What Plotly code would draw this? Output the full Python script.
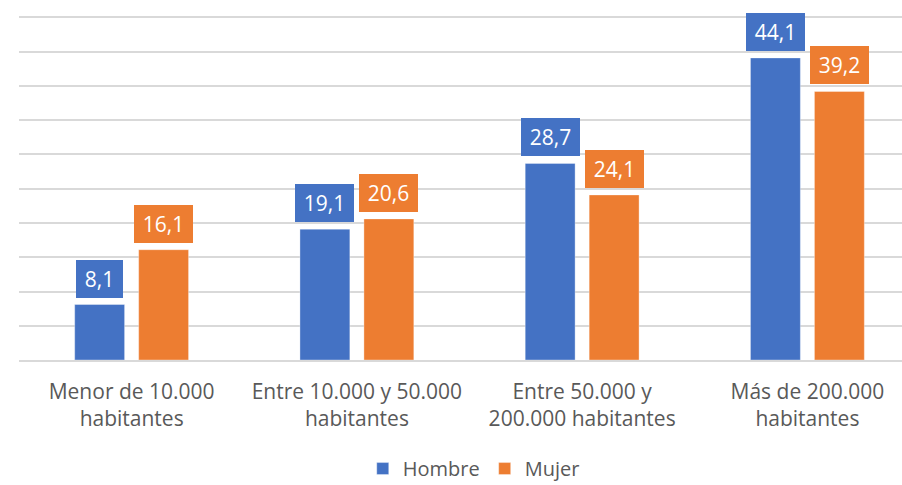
import plotly.graph_objects as go

categories = ["Menor de 10.000<br>habitantes", "Entre 10.000 y 50.000<br>habitantes",
              "Entre 50.000 y<br>200.000 habitantes", "Más de 200.000<br>habitantes"]
hombre = [8.1, 19.1, 28.7, 44.1]
mujer = [16.1, 20.6, 24.1, 39.2]

BLUE = "#4472C4"
ORANGE = "#ED7D31"
FONT = "Open Sans"

fig = go.Figure()
fig.add_trace(go.Bar(x=categories, y=hombre, name="Hombre", marker_color=BLUE,
                     marker_line=dict(color="rgba(255,255,255,0.35)", width=1)))
fig.add_trace(go.Bar(x=categories, y=mujer, name="Mujer", marker_color=ORANGE,
                     marker_line=dict(color="rgba(255,255,255,0.35)", width=1)))

# boxed data labels above each bar
for vals, col, shift in [(hombre, BLUE, -32), (mujer, ORANGE, 32)]:
    for c, v in zip(categories, vals):
        txt = f"{v:.1f}".replace(".", ",")
        fig.add_annotation(x=c, y=v, xshift=shift, yshift=7, yanchor="bottom",
                           text=txt, showarrow=False,
                           bgcolor=col, borderpad=5, borderwidth=1, bordercolor=col,
                           width=47 if len(txt) > 3 else 35, height=26,
                           font=dict(family=FONT, size=21, color="white"))

fig.update_layout(
    width=902, height=485,
    margin=dict(l=19, r=0, t=12, b=125, autoexpand=False),
    plot_bgcolor="white", paper_bgcolor="white",
    barmode="group", bargap=0.432, bargroupgap=0.22,
    font=dict(family=FONT, size=21, color="#595959"),
    showlegend=True,
    legend=dict(orientation="h", x=0.515, xanchor="center", y=-0.312, yanchor="middle",
                font=dict(size=20, color="#595959")),
)
fig.update_xaxes(range=[-0.5, 3.42], showline=True, linecolor="#D9D9D9", linewidth=1.5,
                 ticks="outside", ticklen=12, tickcolor="rgba(0,0,0,0)",
                 tickfont=dict(size=21, color="#595959"))
fig.update_yaxes(range=[0, 50.8], dtick=5, showticklabels=False,
                 showgrid=True, gridcolor="#D9D9D9", gridwidth=1.5, zeroline=False)

fig.write_html("out.html", config={"displayModeBar": False},
               post_script="document.body.style.margin='0';")
